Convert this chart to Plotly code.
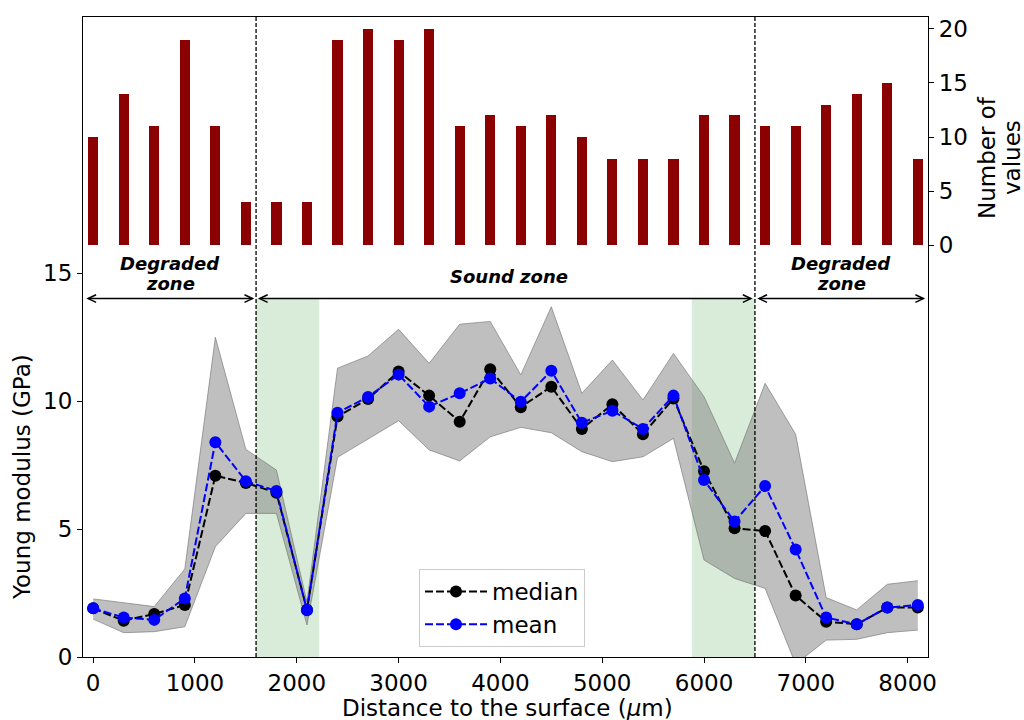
import plotly.graph_objects as go

# ---------------- data ----------------
depth = [0, 300, 600, 900, 1200, 1500, 1800, 2100, 2400, 2700, 3000, 3300, 3600, 3900,
         4200, 4500, 4800, 5100, 5400, 5700, 6000, 6300, 6600, 6900, 7200, 7500, 7800, 8100]
counts = [10, 14, 11, 19, 11, 4, 4, 4, 19, 20, 19, 20, 11, 12,
          11, 12, 10, 8, 8, 8, 12, 12, 11, 11, 13, 14, 15, 8]
median = [1.90, 1.42, 1.68, 2.03, 7.08, 6.80, 6.42, 1.85, 9.39, 10.08, 11.15, 10.21, 9.19, 11.24,
          9.76, 10.56, 8.91, 9.87, 8.70, 10.10, 7.26, 5.03, 4.92, 2.40, 1.38, 1.28, 1.93, 1.93]
mean = [1.90, 1.54, 1.45, 2.29, 8.39, 6.87, 6.48, 1.83, 9.54, 10.16, 11.03, 9.78, 10.30, 10.88,
        9.97, 11.18, 9.15, 9.62, 8.91, 10.21, 6.91, 5.29, 6.68, 4.20, 1.54, 1.28, 1.93, 2.03]
band_high = [2.27, 2.12, 1.97, 3.44, 12.49, 8.11, 7.30, 2.15, 11.28, 11.76, 12.80, 11.47, 13.00, 13.11,
             11.02, 13.68, 10.30, 11.60, 10.04, 11.86, 10.17, 7.57, 10.69, 8.70, 2.32, 1.84, 2.84, 2.98]
band_low = [1.48, 0.95, 0.99, 1.18, 4.31, 5.61, 5.61, 1.25, 7.80, 8.50, 9.23, 8.09, 7.66, 8.60,
            8.97, 8.76, 8.02, 7.63, 7.82, 8.54, 3.79, 3.07, 2.68, -0.28, 0.66, 0.69, 0.95, 1.05]

zone_bounds = [1600, 6500]
transition_spans = [(1600, 2220), (5880, 6500)]
zone_arrows = [(-50, 1565), (1635, 6460), (6540, 8155)]
zone_labels = [["Degraded", "zone"], ["Sound zone"], ["Degraded", "zone"]]
x_ticks = [0, 1000, 2000, 3000, 4000, 5000, 6000, 7000, 8000]
y_ticks = [0, 5, 10, 15]
y2_ticks = [0, 5, 10, 15, 20]

X_RANGE = [-100, 8200]
Y_RANGE = [0, 25]
Y2_RANGE = [-38.1, 21.1]
ARROW_Y = 14.0

FONT = "DejaVu Sans"
FS = 23
ML, MR, MT, MB = 83, 96, 17, 63
W, H = 1024, 720
PW, PH = W - ML - MR, H - MT - MB
px_x = (X_RANGE[1] - X_RANGE[0]) / PW   # data units per px
px_y = (Y_RANGE[1] - Y_RANGE[0]) / PH


def px2paper(px, py):
    return (px - ML) / PW, (MT + PH - py) / PH


fig = go.Figure()

# band
fig.add_trace(go.Scatter(x=depth, y=band_high, mode="lines",
                         line=dict(color="rgba(110,110,110,0.6)", width=1),
                         showlegend=False, hoverinfo="skip"))
fig.add_trace(go.Scatter(x=depth, y=band_low, mode="lines", fill="tonexty",
                         fillcolor="rgba(128,128,128,0.5)",
                         line=dict(color="rgba(110,110,110,0.6)", width=1),
                         showlegend=False, hoverinfo="skip"))

fig.add_trace(go.Scatter(x=depth, y=median, mode="lines+markers", name="median",
                         legendgroup="a",
                         line=dict(color="black", width=2, dash="8px,3px"),
                         marker=dict(color="black", size=12)))
fig.add_trace(go.Scatter(x=depth, y=mean, mode="lines+markers", name="mean",
                         legendgroup="b",
                         line=dict(color="blue", width=2, dash="8px,3px"),
                         marker=dict(color="blue", size=12)))

fig.add_trace(go.Bar(x=depth, y=counts, width=100, yaxis="y2",
                     marker=dict(color="#8b0000", line=dict(width=0)),
                     showlegend=False, hoverinfo="skip"))

shapes = []
for a, b in transition_spans:
    shapes.append(dict(type="rect", xref="x", yref="y", x0=a, x1=b, y0=0, y1=ARROW_Y,
                       fillcolor="rgba(0,128,0,0.15)", line=dict(width=0), layer="below"))
for xb in zone_bounds:
    shapes.append(dict(type="line", xref="x", yref="paper", x0=xb, x1=xb, y0=0, y1=1,
                       line=dict(color="black", width=1.3, dash="4px,2px"), layer="above"))

hl = 8 * px_x
hh = 3.8 * px_y
for a, b in zone_arrows:
    shapes.append(dict(type="line", xref="x", yref="y", x0=a, x1=b, y0=ARROW_Y, y1=ARROW_Y,
                       line=dict(color="black", width=1.5)))
    shapes.append(dict(type="path", xref="x", yref="y",
                       path=f"M{a+hl},{ARROW_Y+hh} L{a},{ARROW_Y} L{a+hl},{ARROW_Y-hh}",
                       line=dict(color="black", width=1.5)))
    shapes.append(dict(type="path", xref="x", yref="y",
                       path=f"M{b-hl},{ARROW_Y+hh} L{b},{ARROW_Y} L{b-hl},{ARROW_Y-hh}",
                       line=dict(color="black", width=1.5)))

annotations = []
for (a, b), lines in zip(zone_arrows, zone_labels):
    cx = (a + b) / 2
    if len(lines) == 2:
        ys = [ARROW_Y + 35 * px_y, ARROW_Y + 15 * px_y]
    else:
        ys = [ARROW_Y + 22 * px_y]
        cx = cx + 40
    for txt, yy in zip(lines, ys):
        annotations.append(dict(x=cx, y=yy, xref="x", yref="y", text=f"<b><i>{txt}</i></b>",
                                showarrow=False, font=dict(family=FONT, size=18, color="black"),
                                xanchor="center", yanchor="middle"))

tx, ty = px2paper(507, 708)
annotations.append(dict(x=tx, y=ty, xref="paper", yref="paper",
                        text="Distance to the surface (<i>μ</i>m)", showarrow=False,
                        font=dict(family=FONT, size=FS, color="black"),
                        xanchor="center", yanchor="middle"))
tx, ty = px2paper(22, 477)
annotations.append(dict(x=tx, y=ty, xref="paper", yref="paper",
                        text="Young modulus (GPa)", showarrow=False, textangle=-90,
                        font=dict(family=FONT, size=FS, color="black"),
                        xanchor="center", yanchor="middle"))
for txt, pxx in (("Number of", 987), ("values", 1012)):
    tx, ty = px2paper(pxx, 158)
    annotations.append(dict(x=tx, y=ty, xref="paper", yref="paper",
                            text=txt, showarrow=False, textangle=-90,
                            font=dict(family=FONT, size=FS, color="black"),
                            xanchor="center", yanchor="middle"))

axis_common = dict(showline=True, linecolor="black", linewidth=1.2, ticks="outside",
                   ticklen=5, tickwidth=1.2, tickcolor="black", showgrid=False, zeroline=False,
                   tickfont=dict(family=FONT, size=FS, color="black"))

lx, ly = px2paper(419, 569)
fig.update_layout(
    width=W, height=H,
    margin=dict(l=ML, r=MR, t=MT, b=MB, autoexpand=False),
    paper_bgcolor="white", plot_bgcolor="white",
    font=dict(family=FONT, size=FS, color="black"),
    xaxis=dict(range=X_RANGE, tickvals=x_ticks, mirror=True, **axis_common),
    yaxis=dict(range=Y_RANGE, tickvals=y_ticks, **axis_common),
    yaxis2=dict(range=Y2_RANGE, tickvals=y2_ticks, overlaying="y", side="right", **axis_common),
    legend=dict(x=lx, y=ly, xanchor="left", yanchor="top", traceorder="normal",
                tracegroupgap=5,
                bordercolor="#cccccc", borderwidth=1, bgcolor="rgba(255,255,255,0.8)",
                font=dict(family=FONT, size=FS, color="black"), itemwidth=62),
    shapes=shapes, annotations=annotations,
    showlegend=True, bargap=0,
)

fig.write_html("out.html", config={"displayModeBar": False},
               post_script="document.body.style.margin='0';document.body.style.overflow='hidden';")
